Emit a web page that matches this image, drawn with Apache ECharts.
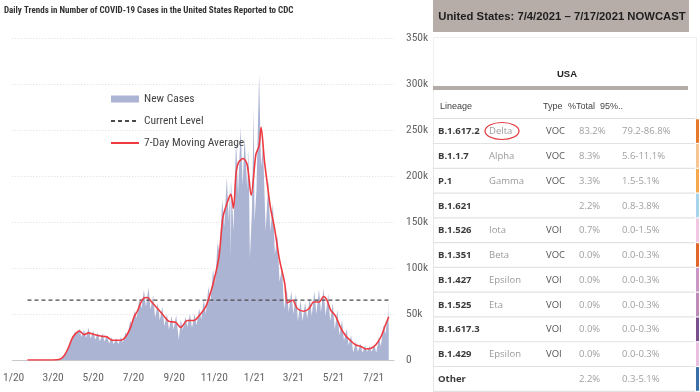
<!DOCTYPE html>
<html>
<head>
<meta charset="utf-8">
<script src="https://cdn.jsdelivr.net/npm/echarts@6/dist/echarts.min.js"></script>
<style>
html,body{margin:0;padding:0;background:#fff;}
#chart{width:700px;height:392px;}
</style>
</head>
<body>
<div id="chart"></div>
<script>
// ---------- DATA ----------
const chartTitle = 'Daily Trends in Number of COVID-19 Cases in the United States Reported to CDC';
const tickDates = ['2020-01-01','2020-03-01','2020-05-01','2020-07-01','2020-09-01','2020-11-01','2021-01-01','2021-03-01','2021-05-01','2021-07-01'];
const tickLabels = ['1/20','3/20','5/20','7/20','9/20','11/20','1/21','3/21','5/21','7/21'];

// New daily cases (thousands)
const caseDates = ['2020-01-22','2020-02-28','2020-03-06','2020-03-09','2020-03-13','2020-03-16','2020-03-20','2020-03-23','2020-03-27','2020-03-30',
'2020-04-03','2020-04-06','2020-04-10','2020-04-13','2020-04-17','2020-04-20','2020-04-24','2020-04-27','2020-05-01','2020-05-04',
'2020-05-08','2020-05-11','2020-05-15','2020-05-18','2020-05-22','2020-05-25','2020-05-29','2020-06-01','2020-06-05','2020-06-08',
'2020-06-12','2020-06-15','2020-06-19','2020-06-22','2020-06-26','2020-06-29','2020-07-03','2020-07-06','2020-07-10','2020-07-13',
'2020-07-17','2020-07-20','2020-07-24','2020-07-27','2020-07-31','2020-08-03','2020-08-07','2020-08-10','2020-08-14','2020-08-17',
'2020-08-21','2020-08-24','2020-08-28','2020-08-31','2020-09-04','2020-09-08','2020-09-11','2020-09-14','2020-09-18','2020-09-21',
'2020-09-25','2020-09-28','2020-10-02','2020-10-05','2020-10-09','2020-10-12','2020-10-16','2020-10-19','2020-10-23','2020-10-26',
'2020-10-30','2020-11-02','2020-11-06','2020-11-09','2020-11-13','2020-11-16','2020-11-20','2020-11-23','2020-11-25','2020-11-26',
'2020-11-27','2020-11-30','2020-12-04','2020-12-07','2020-12-11','2020-12-14','2020-12-17','2020-12-21','2020-12-23','2020-12-25',
'2020-12-28','2020-12-31','2021-01-01','2021-01-04','2021-01-08','2021-01-11','2021-01-14','2021-01-18','2021-01-22','2021-01-25',
'2021-01-29','2021-02-01','2021-02-05','2021-02-08','2021-02-12','2021-02-15','2021-02-19','2021-02-22','2021-02-26','2021-03-01',
'2021-03-05','2021-03-08','2021-03-12','2021-03-15','2021-03-19','2021-03-22','2021-03-26','2021-03-29','2021-04-02','2021-04-05',
'2021-04-09','2021-04-12','2021-04-16','2021-04-19','2021-04-23','2021-04-26','2021-04-30','2021-05-03','2021-05-07','2021-05-10',
'2021-05-14','2021-05-17','2021-05-21','2021-05-24','2021-05-28','2021-05-31','2021-06-04','2021-06-07','2021-06-11','2021-06-14',
'2021-06-18','2021-06-21','2021-06-25','2021-06-28','2021-07-02','2021-07-05','2021-07-09','2021-07-12','2021-07-16','2021-07-19',
'2021-07-22','2021-07-23','2021-07-24'];
const newCasesK = [0,0,0.1,0.2,1,3,8,10,19,22,
31,28,34,25,33,24,35,23,32,22,
30,20,29,20,27,18,25,17,24,17,
25,19,30,27,42,38,54,46,66,56,
76,58,79,55,70,46,62,43,58,37,
50,33,48,33,49,22,44,33,47,36,
50,35,50,38,56,44,66,50,80,62,
98,82,128,115,175,145,199,150,194,110,
195,140,241,180,253,190,243,185,230,110,
160,275,150,185,311,210,232,140,195,140,
170,115,135,85,100,55,78,52,75,50,
72,42,65,42,63,45,68,48,75,50,
77,52,78,48,72,42,62,33,55,27,
43,21,34,16,27,8,20,9,18,8,
16,9,15,9,17,8,25,15,38,28,
48,40,65];

// 7-day moving average (thousands)
const avgDates = ['2020-01-22','2020-03-01','2020-03-10','2020-03-17','2020-03-24','2020-03-31','2020-04-07','2020-04-10','2020-04-17','2020-04-24',
'2020-05-01','2020-05-12','2020-05-22','2020-05-30','2020-06-12','2020-06-19','2020-06-27','2020-07-02','2020-07-07','2020-07-12',
'2020-07-17','2020-07-22','2020-07-30','2020-08-09','2020-08-16','2020-08-24','2020-09-03','2020-09-11','2020-09-21','2020-10-01',
'2020-10-11','2020-10-19','2020-10-24','2020-10-31','2020-11-08','2020-11-14','2020-11-21','2020-11-26','2020-11-30','2020-12-04',
'2020-12-08','2020-12-15','2020-12-21','2020-12-27','2021-01-03','2021-01-08','2021-01-11','2021-01-16','2021-01-20','2021-01-25',
'2021-02-01','2021-02-08','2021-02-16','2021-02-20','2021-02-28','2021-03-07','2021-03-17','2021-03-25','2021-04-01','2021-04-09',
'2021-04-16','2021-04-21','2021-04-27','2021-05-04','2021-05-12','2021-05-19','2021-05-27','2021-06-04','2021-06-11','2021-06-19',
'2021-06-27','2021-07-04','2021-07-12','2021-07-19','2021-07-24'];
const avg7K = [0,0,0.5,4,13,25,30.5,31.5,27.5,29.5,
28,26,25,21.5,21.5,25,36,47,53,62,
67.5,68,62,54,48,42,41,35.5,43,43,
50,58,68,85,112,155,172,180,165,203,
215,219,212,179,223,233,253,217,194,167,
141,109,83,62,65,56,53,56,63,63,
69,65,54,48,35,27,21,16.3,15,12,
12.7,16.3,25,38,47];

const currentLevelK = 65;
const currentLevelDates = ['2020-01-22','2021-07-24'];
const xRange = ['2019-12-30','2021-08-01'];

// Variant table
const tableTitle = 'United States: 7/4/2021 \u2013 7/17/2021 NOWCAST';
const regionName = 'USA';
const columnHeaders = ['Lineage','Type','%Total','95%..'];
const lineages = ['B.1.617.2','B.1.1.7','P.1','B.1.621','B.1.526','B.1.351','B.1.427','B.1.525','B.1.617.3','B.1.429','Other'];
const whoNames = ['Delta','Alpha','Gamma','','Iota','Beta','Epsilon','Eta','','Epsilon',''];
const variantTypes = ['VOC','VOC','VOC','','VOI','VOC','VOI','VOI','VOI','VOI',''];
const pctTotal = ['83.2%','8.3%','3.3%','2.2%','0.7%','0.0%','0.0%','0.0%','0.0%','0.0%','2.2%'];
const ci95 = ['79.2-86.8%','5.6-11.1%','1.5-5.1%','0.8-3.8%','0.0-1.5%','0.0-0.3%','0.0-0.3%','0.0-0.3%','0.0-0.3%','0.0-0.3%','0.3-5.1%'];
const lineageColors = ['#e8782a','#f7c493','#f5a94c','#a9d2ec','#f2c6e0','#e0662a','#c996c6','#be8ab9','#7b4f8c','#ebbde0','#3b6ea6'];
const highlightRow = 0;

// ---------- CHART ----------
const condensed = "'Liberation Sans Narrow','Roboto Condensed','DejaVu Sans Condensed',sans-serif";
const tp = s => { const p = s.split('-').map(Number); return Date.UTC(p[0], p[1]-1, p[2]); };
const tickTs = tickDates.map(tp);

const graphics = [];
const TX = 433, TW = 263;
graphics.push({type:'rect', silent:true, shape:{x:TX, y:0, width:256, height:32}, style:{fill:'#b6ada9'}});
graphics.push({type:'text', silent:true, x:TX+129, y:16.5, style:{text:tableTitle, fill:'#1e1e1e', font:"bold 11.3px 'Liberation Sans',Arial,sans-serif", align:'center', verticalAlign:'middle'}});
graphics.push({type:'rect', silent:true, shape:{x:TX+0.5, y:37.5, width:TW, height:360}, style:{fill:'none', stroke:'#efefef', lineWidth:1}});
graphics.push({type:'text', silent:true, x:567, y:74, style:{text:regionName, fill:'#222', font:"bold 9.5px 'Liberation Sans',Arial,sans-serif", align:'center', verticalAlign:'middle'}});
graphics.push({type:'rect', silent:true, shape:{x:TX, y:86, width:255, height:4}, style:{fill:'#b3aba7'}});
const headerX = [440, 543, 568, 600];
columnHeaders.forEach((h,i)=>{
  graphics.push({type:'text', silent:true, x:headerX[i], y:107, style:{text:h, fill:'#444', font:"9px 'Liberation Sans',Arial,sans-serif", align:'left', verticalAlign:'middle'}});
});
graphics.push({type:'line', silent:true, shape:{x1:TX, y1:118.5, x2:695, y2:118.5}, style:{stroke:'#dcdcdc', lineWidth:1.2}});
graphics.push({type:'line', silent:true, shape:{x1:TX+0.5, y1:118, x2:TX+0.5, y2:392}, style:{stroke:'#e6e6e6', lineWidth:1}});
const rowFont = "'Open Sans','DejaVu Sans',sans-serif";
lineages.forEach((lin,i)=>{
  const yc = 131.5 + i*24.78;
  graphics.push({type:'text', silent:true, x:438, y:yc, style:{text:lin, fill:'#3a3a3a', font:"bold 9.5px "+rowFont, align:'left', verticalAlign:'middle'}});
  graphics.push({type:'text', silent:true, x:489, y:yc, style:{text:whoNames[i], fill:'#9a9a9a', font:"9.5px "+rowFont, align:'left', verticalAlign:'middle'}});
  graphics.push({type:'text', silent:true, x:546, y:yc, style:{text:variantTypes[i], fill:'#555', font:"9.5px "+rowFont, align:'left', verticalAlign:'middle'}});
  graphics.push({type:'text', silent:true, x:579, y:yc, style:{text:pctTotal[i], fill:'#a0a0a0', font:"9.5px "+rowFont, align:'left', verticalAlign:'middle'}});
  graphics.push({type:'text', silent:true, x:622, y:yc, style:{text:ci95[i], fill:'#a0a0a0', font:"9.5px "+rowFont, align:'left', verticalAlign:'middle'}});
  graphics.push({type:'line', silent:true, shape:{x1:TX, y1:yc+12, x2:695, y2:yc+12}, style:{stroke:'#e2e2e2', lineWidth:1.2}});
  graphics.push({type:'rect', silent:true, shape:{x:696, y:yc-12.2, width:3, height:23.6}, style:{fill:lineageColors[i]}});
  if (i === highlightRow) {
    graphics.push({type:'ellipse', silent:true, shape:{cx:502, cy:yc-0.5, rx:17, ry:8.5}, style:{fill:'none', stroke:'#e0353a', lineWidth:1.2}});
  }
});

const chart = echarts.init(document.getElementById('chart'), null, {renderer:'canvas'});
chart.setOption({
  animation:false,
  backgroundColor:'#fff',
  title:{text:chartTitle, left:4, top:6, padding:0, textStyle:{fontFamily:condensed, fontSize:9, fontWeight:'bold', color:'#333'}},
  legend:{
    orient:'vertical', left:110, top:92, padding:0, itemGap:8, itemWidth:28, itemHeight:7,
    textStyle:{fontFamily:condensed, fontSize:11.5, color:'#444', lineHeight:14},
    itemGap:8,
    data:[
      {name:'New Cases', icon:'rect', itemStyle:{color:'#acb4d4'}},
      {name:'Current Level', itemStyle:{opacity:0}},
      {name:'7-Day Moving Average', itemStyle:{opacity:0}}
    ]
  },
  grid:{left:12, right:306, top:38, bottom:32, containLabel:false},
  xAxis:{
    type:'value', min:tp(xRange[0]), max:tp(xRange[1]),
    axisLine:{show:true, onZero:false, lineStyle:{color:'#c8c8c8', width:1}},
    axisTick:{show:false},
    splitLine:{show:false},
    axisLabel:{
      customValues:tickTs, color:'#666', fontFamily:condensed, fontSize:11.5, margin:12,
      showMinLabel:true, showMaxLabel:true,
      formatter:(v)=>{ const i = tickTs.indexOf(v); return i>=0 ? tickLabels[i] : ''; }
    }
  },
  yAxis:{
    type:'value', position:'right', min:0, max:350, interval:50,
    axisLine:{show:false}, axisTick:{show:false},
    splitLine:{show:true, lineStyle:{color:'#dcdcdc', type:[1,2], width:1}},
    axisLabel:{color:'#666', fontFamily:condensed, fontSize:11.5, margin:12, formatter:(v)=> v===0 ? '0' : v+'k'}
  },
  series:[
    {name:'New Cases', type:'line', symbol:'none', silent:true, z:1,
     data:caseDates.map((d,i)=>[tp(d),newCasesK[i]]),
     lineStyle:{width:0, color:'#acb4d4'}, itemStyle:{color:'#acb4d4'},
     areaStyle:{color:'#acb4d4', opacity:1}},
    {name:'Current Level', type:'line', symbol:'none', silent:true, z:3,
     data:currentLevelDates.map(d=>[tp(d),currentLevelK]),
     lineStyle:{color:'#4a4a4a', width:1.2, type:[4,3]}, itemStyle:{color:'#4a4a4a'}},
    {name:'7-Day Moving Average', type:'line', symbol:'none', silent:true, z:4, smooth:0.3,
     data:avgDates.map((d,i)=>[tp(d),avg7K[i]]),
     lineStyle:{color:'#ee3b42', width:1.6}, itemStyle:{color:'#ee3b42'}}
  ],
  graphic:graphics
});
</script>
</body>
</html>
